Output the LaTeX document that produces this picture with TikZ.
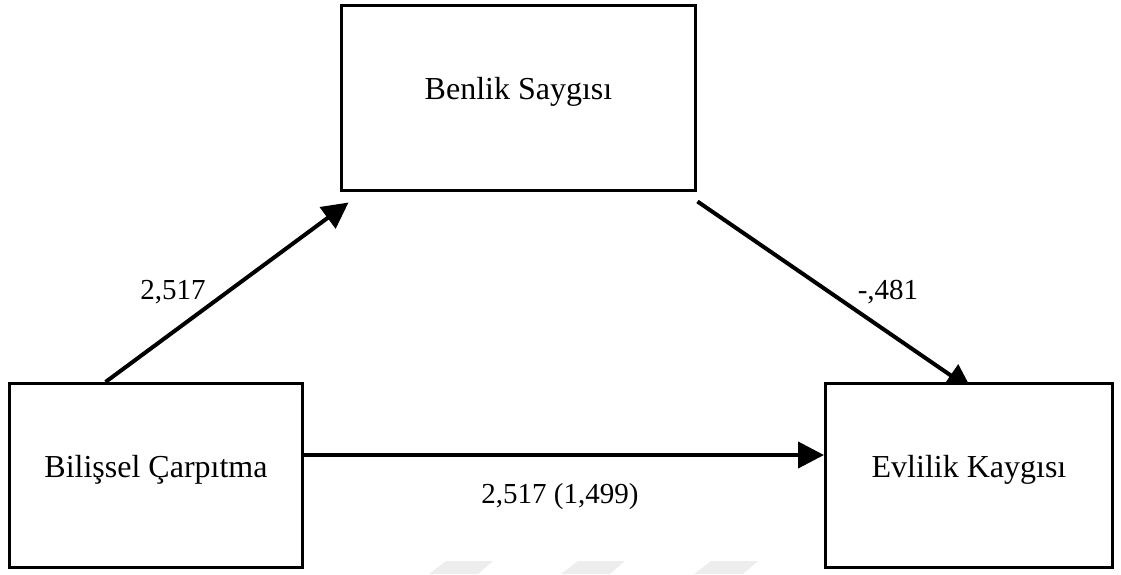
\documentclass[tikz,border=0pt]{standalone}
\usepackage{fontspec}
\setmainfont{Liberation Serif}
\usetikzlibrary{arrows.meta,backgrounds}
\begin{document}
\begin{tikzpicture}[x=1pt,y=-1pt,
  box/.style={draw=black, line width=3pt, fill=white, rectangle, inner sep=0pt,
    font=\fontsize{32}{38}\selectfont, text height=10pt, text depth=7pt},
  lab/.style={font=\fontsize{29}{35}\selectfont, inner sep=0pt, anchor=base},
  arr/.style={line width=4pt, -{Triangle[length=26pt,width=26pt]}},
  wm/.style={fill=black!7, draw=none}]
\useasboundingbox (0,0) rectangle (1121,574);
% faint watermark
\fill[wm] (446,561) -- (493,561) -- (478,574) -- (429,574) -- cycle;
\fill[wm] (578,561) -- (625,561) -- (610,574) -- (561,574) -- cycle;
\fill[wm] (711,561) -- (758,561) -- (743,574) -- (694,574) -- cycle;
% boxes
\node[box, minimum width=354pt, minimum height=185pt] (BS) at (518.5,98) {Benlik Saygısı};
\node[box, minimum width=293pt, minimum height=184pt] (BC) at (156,475.5) {Bilişsel Çarpıtma};
\node[box, minimum width=287pt, minimum height=184pt] (EK) at (969,475.5) {Evlilik Kaygısı};
% connectors
\begin{scope}[on background layer]
\draw[arr] ([xshift=97.5pt]BC.north west) -- ([xshift=8.5pt,yshift=-10.5pt]BS.south west);
\draw[arr] ([xshift=0.5pt,yshift=-9.5pt]BS.south east) -- ([xshift=3pt,yshift=-8pt]EK.north);
\draw[arr] ([yshift=20.5pt]BC.east) -- ([yshift=20.5pt]EK.west);
\end{scope}
% labels
\node[lab] (l1) at (173,299) {2,517};
\node[lab] (l2) at (888,299) {-,481};
\node[lab] (l3) at (560,503) {2,517 (1,499)};
\end{tikzpicture}
\end{document}
